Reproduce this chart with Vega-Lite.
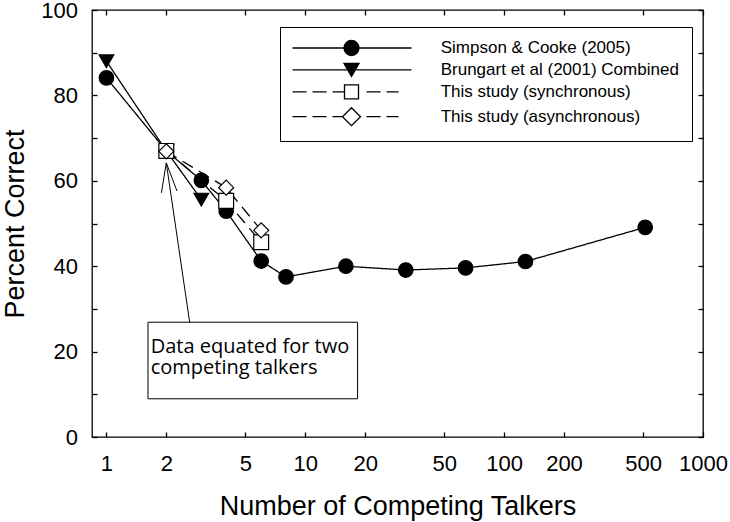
{
  "$schema": "https://vega.github.io/schema/vega-lite/v6.json",
  "width": 611,
  "height": 427,
  "autosize": {"type": "none"},
  "padding": {"left": 92, "top": 10, "right": 27, "bottom": 85},
  "background": "white",
  "config": {
    "view": {"stroke": "black", "strokeWidth": 1.3},
    "font": "Liberation Sans",
    "axis": {
      "domain": false,
      "grid": false,
      "tickColor": "black",
      "tickWidth": 1.3,
      "labelColor": "black",
      "titleColor": "black",
      "labelFont": "Liberation Sans",
      "titleFont": "Liberation Sans",
      "titleFontWeight": "normal"
    },
    "legend": {
      "title": null,
      "orient": "none",
      "legendX": 188,
      "legendY": 17,
      "padding": 12.5,
      "strokeColor": "black",
      "fillColor": "white",
      "cornerRadius": 0,
      "symbolOffset": -8.5,
      "labelOffset": 139.7,
      "labelFont": "Liberation Sans",
      "labelFontSize": 17,
      "labelColor": "black",
      "labelLimit": 400,
      "symbolSize": 4,
      "symbolStrokeWidth": 1.3,
      "symbolStrokeColor": "black",
      "rowPadding": 1.9
    }
  },
  "datasets": {
    "series": [
      {"talkers": 1, "pc": 84.1, "series": "Simpson & Cooke (2005)"},
      {"talkers": 2, "pc": 67, "series": "Simpson & Cooke (2005)"},
      {"talkers": 3, "pc": 60.1, "series": "Simpson & Cooke (2005)"},
      {"talkers": 4, "pc": 52.9, "series": "Simpson & Cooke (2005)"},
      {"talkers": 6, "pc": 41.2, "series": "Simpson & Cooke (2005)"},
      {"talkers": 8, "pc": 37.5, "series": "Simpson & Cooke (2005)"},
      {"talkers": 16, "pc": 40, "series": "Simpson & Cooke (2005)"},
      {"talkers": 32, "pc": 39.1, "series": "Simpson & Cooke (2005)"},
      {"talkers": 64, "pc": 39.6, "series": "Simpson & Cooke (2005)"},
      {"talkers": 128, "pc": 41.1, "series": "Simpson & Cooke (2005)"},
      {"talkers": 512, "pc": 49.1, "series": "Simpson & Cooke (2005)"},
      {"talkers": 1, "pc": 88, "series": "Brungart et al (2001) Combined"},
      {"talkers": 2, "pc": 67, "series": "Brungart et al (2001) Combined"},
      {"talkers": 3, "pc": 55.6, "series": "Brungart et al (2001) Combined"},
      {"talkers": 2, "pc": 67, "series": "This study (synchronous)"},
      {"talkers": 4, "pc": 55.3, "series": "This study (synchronous)"},
      {"talkers": 6, "pc": 45.6, "series": "This study (synchronous)"},
      {"talkers": 2, "pc": 66.9, "series": "This study (asynchronous)"},
      {"talkers": 4, "pc": 58.4, "series": "This study (asynchronous)"},
      {"talkers": 6, "pc": 48.4, "series": "This study (asynchronous)"}
    ],
    "arrow": [
      {"x1": 2, "y1": 64.2, "x2": 2.622, "y2": 26.8},
      {"x1": 2, "y1": 64.2, "x2": 1.89, "y2": 57.2},
      {"x1": 2, "y1": 64.2, "x2": 2.263, "y2": 57.6}
    ],
    "box": [
      {"x1": 1.618, "x2": 18.32, "y1": 26.88, "y2": 8.95}
    ],
    "note": [
      {"x": 1.67, "y": 19.72, "text": "Data equated for two"},
      {"x": 1.67, "y": 14.87, "text": "competing talkers"}
    ]
  },
  "resolve": {
    "axis": {"x": "independent", "y": "independent"},
    "scale": {"shape": "independent", "fill": "independent", "size": "independent", "strokeDash": "independent"}
  },
  "layer": [
    {
      "data": {"name": "series"},
      "mark": {"type": "line", "color": "black", "strokeWidth": 1.3},
      "encoding": {
        "x": {
          "field": "talkers", "type": "quantitative",
          "scale": {"type": "log", "domain": [0.846, 1000], "nice": false},
          "axis": {
            "orient": "bottom",
            "values": [1, 2, 5, 10, 20, 50, 100, 200, 500, 1000],
            "format": "d",
            "tickSize": -5,
            "labelPadding": 21,
            "labelFontSize": 22,
            "labelFlush": false,
            "labelOverlap": false,
            "title": "Number of Competing Talkers",
            "titleFontSize": 27,
            "titleBaseline": "alphabetic",
            "titleY": 77
          }
        },
        "y": {
          "field": "pc", "type": "quantitative",
          "scale": {"domain": [0, 100], "nice": false, "zero": false},
          "axis": {
            "orient": "left",
            "values": [0, 10, 20, 30, 40, 50, 60, 70, 80, 90, 100],
            "labelExpr": "datum.value % 20 === 0 ? datum.label : ''",
            "tickSize": -5,
            "labelPadding": 19.5,
            "labelFontSize": 22,
            "title": "Percent Correct",
            "titleFontSize": 27,
            "titleBaseline": "alphabetic",
            "titleX": -68.5,
            "titleY": 213.5
          }
        },
        "detail": {"field": "series", "type": "nominal"},
        "strokeDash": {
          "field": "series", "type": "nominal",
          "scale": {
            "domain": ["Simpson & Cooke (2005)", "Brungart et al (2001) Combined", "This study (synchronous)", "This study (asynchronous)"],
            "range": [[1, 0], [1, 0], [12, 7], [12, 7]]
          },
          "legend": null
        }
      }
    },
    {
      "data": {"name": "series"},
      "mark": {"type": "point", "filled": true, "stroke": "black", "strokeWidth": 1.2, "opacity": 1},
      "encoding": {
        "x": {
          "field": "talkers", "type": "quantitative",
          "scale": {"type": "log", "domain": [0.846, 1000], "nice": false},
          "axis": {"orient": "top", "values": [1, 2, 5, 10, 20, 50, 100, 200, 500, 1000], "labels": false, "tickSize": -5, "title": null}
        },
        "y": {
          "field": "pc", "type": "quantitative",
          "scale": {"domain": [0, 100], "nice": false, "zero": false},
          "axis": {"orient": "right", "values": [0, 10, 20, 30, 40, 50, 60, 70, 80, 90, 100], "labels": false, "tickSize": -5, "title": null}
        },
        "shape": {
          "field": "series", "type": "nominal",
          "scale": {
            "domain": ["Simpson & Cooke (2005)", "Brungart et al (2001) Combined", "This study (synchronous)", "This study (asynchronous)"],
            "range": ["circle", "triangle-down", "square", "diamond"]
          },
          "legend": null
        },
        "fill": {
          "field": "series", "type": "nominal",
          "scale": {
            "domain": ["Simpson & Cooke (2005)", "Brungart et al (2001) Combined", "This study (synchronous)", "This study (asynchronous)"],
            "range": ["black", "black", "white", "white"]
          },
          "legend": null
        },
        "size": {
          "field": "series", "type": "ordinal",
          "scale": {
            "domain": ["Simpson & Cooke (2005)", "Brungart et al (2001) Combined", "This study (synchronous)", "This study (asynchronous)"],
            "range": [210, 225, 180, 256]
          },
          "legend": null
        }
      }
    },
    {
      "data": {"name": "series"},
      "mark": {"type": "point", "opacity": 0, "size": 4},
      "encoding": {
        "x": {"field": "talkers", "type": "quantitative", "scale": {"type": "log", "domain": [0.846, 1000], "nice": false}, "axis": null},
        "y": {"field": "pc", "type": "quantitative", "scale": {"domain": [0, 100], "nice": false, "zero": false}, "axis": null},
        "shape": {
          "field": "series", "type": "nominal",
          "scale": {
            "domain": ["Simpson & Cooke (2005)", "Brungart et al (2001) Combined", "This study (synchronous)", "This study (asynchronous)"],
            "range": [
              "M0,0H119M66.5,0A7.5 7.5 0 1 1 51.5,0A7.5 7.5 0 1 1 66.5,0M65.6,0A6.6 6.6 0 1 1 52.4,0A6.6 6.6 0 1 1 65.6,0M64.7,0A5.7 5.7 0 1 1 53.3,0A5.7 5.7 0 1 1 64.7,0M63.8,0A4.8 4.8 0 1 1 54.2,0A4.8 4.8 0 1 1 63.8,0M62.9,0A3.9 3.9 0 1 1 55.1,0A3.9 3.9 0 1 1 62.9,0M62,0A3 3 0 1 1 56,0A3 3 0 1 1 62,0M61.1,0A2.1 2.1 0 1 1 56.9,0A2.1 2.1 0 1 1 61.1,0M60.2,0A1.2 1.2 0 1 1 57.8,0A1.2 1.2 0 1 1 60.2,0M59.4,0A0.4 0.4 0 1 1 58.6,0A0.4 0.4 0 1 1 59.4,0",
              "M0,0H119M51.5,-6.5H66.5L59,6.5ZM52.08,-5.5H65.92M52.65,-4.5H65.35M53.23,-3.5H64.77M53.81,-2.5H64.19M54.38,-1.5H63.62M54.96,-0.5H63.04M55.54,0.5H62.46M56.12,1.5H61.88M56.69,2.5H61.31M57.27,3.5H60.73M57.85,4.5H60.15M58.42,5.5H59.58",
              "M0,0H14M20,0H34M40,0H52M52,-7H66V7H52ZM74,0H88M94,0H106",
              "M0,0H14M20,0H34M40,0H50M50,0L59,-9L68,0L59,9ZM74,0H88M94,0H106"
            ]
          },
          "legend": {
            "encode": {
              "symbols": {
                "stroke": {"value": "black"},
                "strokeWidth": {"value": 1.3},
                "opacity": {"value": 1}
              }
            }
          }
        }
      }
    },
    {
      "data": {"name": "arrow"},
      "mark": {"type": "rule", "color": "black", "strokeWidth": 1},
      "encoding": {
        "x": {"field": "x1", "type": "quantitative", "scale": {"type": "log", "domain": [0.846, 1000], "nice": false}, "axis": null},
        "y": {"field": "y1", "type": "quantitative", "scale": {"domain": [0, 100], "nice": false, "zero": false}, "axis": null},
        "x2": {"field": "x2"},
        "y2": {"field": "y2"}
      }
    },
    {
      "data": {"name": "box"},
      "mark": {"type": "rect", "fill": "white", "stroke": "black", "strokeWidth": 1},
      "encoding": {
        "x": {"field": "x1", "type": "quantitative", "scale": {"type": "log", "domain": [0.846, 1000], "nice": false}, "axis": null},
        "x2": {"field": "x2"},
        "y": {"field": "y1", "type": "quantitative", "scale": {"domain": [0, 100], "nice": false, "zero": false}, "axis": null},
        "y2": {"field": "y2"}
      }
    },
    {
      "data": {"name": "note"},
      "mark": {"type": "text", "align": "left", "baseline": "alphabetic", "font": "Open Sans", "fontSize": 20, "color": "black"},
      "encoding": {
        "x": {"field": "x", "type": "quantitative", "scale": {"type": "log", "domain": [0.846, 1000], "nice": false}, "axis": null},
        "y": {"field": "y", "type": "quantitative", "scale": {"domain": [0, 100], "nice": false, "zero": false}, "axis": null},
        "text": {"field": "text", "type": "nominal"}
      }
    }
  ]
}
